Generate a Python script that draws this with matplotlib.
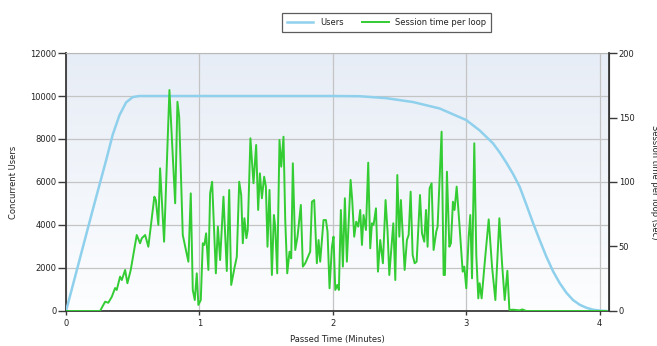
import numpy as np
import matplotlib
matplotlib.use('Agg')
import matplotlib.pyplot as plt

# concurrent users (left axis)
user_t = [0, 0.1, 0.2, 0.3, 0.35, 0.4, 0.45, 0.5, 0.55, 1.0, 1.5, 2.0, 2.2, 2.4, 2.6,
          2.8, 3.0, 3.1, 3.2, 3.25, 3.3, 3.35, 3.4, 3.45, 3.5, 3.55, 3.6, 3.65, 3.7,
          3.75, 3.8, 3.85, 3.9, 3.95, 4.0, 4.05]
user_n = [0, 2350, 4700, 7000, 8200, 9100, 9700, 9950, 10000, 10000, 10000, 10000, 9990, 9900, 9720,
          9420, 8880, 8400, 7800, 7380, 6900, 6380, 5780, 4950, 4100, 3300, 2530, 1850, 1300,
          850, 510, 290, 150, 60, 20, 0]

# session time per loop (right axis, sec)
sess_t = [0, 0.255, 0.293, 0.317, 0.343, 0.368, 0.38, 0.405, 0.418, 0.443, 0.46, 0.485,
          0.53, 0.555, 0.568, 0.593, 0.617, 0.662, 0.673, 0.692, 0.705, 0.735, 0.775,
          0.818, 0.835, 0.848, 0.875, 0.917, 0.935, 0.95, 0.965, 0.98, 0.992, 1.01,
          1.025, 1.037, 1.05, 1.067, 1.08, 1.095, 1.123, 1.138, 1.155, 1.18, 1.205,
          1.223, 1.238, 1.262, 1.28, 1.298, 1.313, 1.325, 1.337, 1.352, 1.362, 1.382,
          1.405, 1.425, 1.44, 1.453, 1.468, 1.485, 1.498, 1.51, 1.525, 1.543, 1.558,
          1.568, 1.583, 1.6, 1.613, 1.63, 1.643, 1.658, 1.675, 1.688, 1.7, 1.718,
          1.735, 1.76, 1.775, 1.793, 1.83, 1.843, 1.86, 1.88, 1.893, 1.905, 1.93,
          1.948, 1.96, 1.975, 1.993, 2.005, 2.018, 2.033, 2.045, 2.06, 2.075, 2.09,
          2.105, 2.133, 2.145, 2.16, 2.175, 2.19, 2.205, 2.218, 2.23, 2.248, 2.265,
          2.28, 2.293, 2.305, 2.323, 2.338, 2.355, 2.375, 2.395, 2.41, 2.423, 2.453,
          2.468, 2.483, 2.498, 2.51, 2.538, 2.555, 2.568, 2.583, 2.598, 2.613, 2.628,
          2.653, 2.668, 2.685, 2.698, 2.71, 2.725, 2.74, 2.755, 2.775, 2.785, 2.8,
          2.815, 2.83, 2.84, 2.855, 2.873, 2.885, 2.9, 2.912, 2.928, 2.948, 2.973,
          2.985, 3.0, 3.018, 3.03, 3.043, 3.06, 3.075, 3.09, 3.1, 3.115, 3.14, 3.168,
          3.193, 3.218, 3.248, 3.268, 3.288, 3.308, 3.323, 3.35, 3.4, 3.42, 3.45, 4.05]
sess_v = [0, 0, 7.2, 6.4, 11, 17.8, 16.3, 26.6, 24, 31.8, 21.5, 31.8,
          58.9, 52.5, 56.4, 58.9, 49.8, 88.6, 86, 66.7, 110.6, 53.7, 171.3,
          83.5, 162.2, 150.6, 58.9, 38.2, 91.2, 16.3, 8.5, 29.2, 4.7, 8.5,
          52.5, 51.2, 60.2, 31.8, 91.2, 100.2, 29.2, 65.4, 39.5, 88.6, 31,
          93.8, 20.2, 33.1, 42.1, 100.2, 89.9, 52.5, 71.9, 56.4, 62.8, 133.9,
          99, 128.7, 78.3, 106.7, 87.4, 104.1, 96.4, 49.8, 93.8, 27.9, 74.4,
          65.4, 29.2, 132.6, 111.9, 135.1, 70.5, 29.2, 46, 40.8, 114.5, 47.3,
          57.6, 82.2, 34.4, 37, 46, 84.7, 86, 37, 55, 38.2, 70.5,
          70.5, 61.5, 17.6, 49.8, 57.6, 16.3, 20.2, 16.3, 78.3, 34.4, 87.4,
          38.2, 101.6, 86, 57.6, 69.2, 65.4, 78.3, 51.2, 74.4, 62.8, 115,
          48.6, 68, 66.7, 79.6, 30.5, 55, 37, 86, 61.5, 27.9, 68,
          24, 105.4, 57.6, 86, 31.8, 55, 58.9, 92.5, 43.4, 37, 38.2,
          89.9, 60.2, 53.7, 78.3, 49.8, 95.1, 99, 47.3, 61.5, 65.4, 101.6,
          139, 27.9, 27.9, 108, 49.8, 52.5, 84.7, 78.3, 96.4, 68, 30.5,
          34.4, 17.6, 57.6, 74.4, 25.3, 130, 43.4, 9.8, 21.5, 9.8, 39.5, 71,
          34.4, 8.5, 71.9, 37, 8.5, 31.2, 0.8, 1, 0.5, 1.2, 0, 0]

x_ticks = [0, 1, 2, 3, 4]
left_ticks = [0, 2000, 4000, 6000, 8000, 10000, 12000]
right_ticks = [0, 50, 100, 150, 200]

plt.rcParams['font.family'] = ['DejaVu Sans']
plt.rcParams['font.size'] = 6

fig = plt.figure(figsize=(6.57, 3.46), dpi=100)
ax = fig.add_axes([0.1005, 0.1012, 0.8265, 0.7456])

# gradient background
grad = np.linspace(0, 1, 256).reshape(-1, 1)
top = np.array([0.906, 0.929, 0.965])
bot = np.array([0.99, 0.995, 1.0])
img = bot + (top - bot) * grad
ax.imshow(img[::-1].reshape(256, 1, 3), extent=[0, 1, 0, 1], transform=ax.transAxes,
          aspect='auto', zorder=0)

dark = '#3a3a3a'
l1, = ax.plot(user_t, user_n, color='#8fd0ec', lw=1.8, zorder=3, label='Users')
ax.set_xlim(0, 4.07)
ax.set_ylim(0, 12000)
ax.set_xticks(x_ticks)
ax.set_yticks(left_ticks)
ax.grid(True, color='#c4c4c4', lw=0.9, zorder=1)
ax.set_axisbelow(True)
for s in ['left', 'bottom']:
    ax.spines[s].set_color(dark)
    ax.spines[s].set_linewidth(1.3)
ax.spines['top'].set_color('#b8b8b8')
ax.tick_params(axis='y', length=6, width=1, color=dark, labelcolor='#222222', pad=1)
ax.tick_params(axis='x', length=3, width=1, color=dark, labelcolor='#222222', pad=3)
ax.set_ylabel('Concurrent Users', color='#222222', labelpad=9)
ax.set_xlabel('Passed Time (Minutes)', color='#222222', labelpad=5)

ax2 = ax.twinx()
l2, = ax2.plot(sess_t, sess_v, color='#33cc33', lw=1.4, zorder=4, label='Session time per loop')
ax2.set_ylim(0, 200)
ax2.set_yticks(right_ticks)
ax2.spines['right'].set_color(dark)
ax2.spines['right'].set_linewidth(1.3)
for s in ['left', 'bottom', 'top']:
    ax2.spines[s].set_visible(False)
ax2.tick_params(axis='y', length=6, width=1, color=dark, labelcolor='#222222', pad=1)
fig.text(650 / 657, 1 - 182 / 346, 'Session time per loop (sec)', rotation=270,
         ha='left', va='center', color='#222222', fontsize=6)

leg = fig.legend(handles=[l1, l2], loc='upper center', bbox_to_anchor=(386.5 / 657, 1 - 9 / 346),
                 ncol=2, frameon=True, fancybox=False, edgecolor='#333333', handlelength=3.2,
                 columnspacing=2.2, borderpad=0.6, handletextpad=0.8)
leg.get_frame().set_linewidth(0.9)
for t in leg.get_texts():
    t.set_color('#222222')

fig.savefig('out.png', dpi=100)
